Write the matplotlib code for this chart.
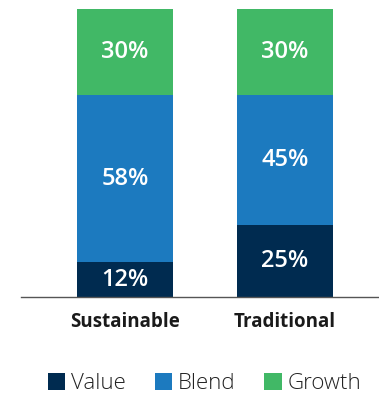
import numpy as np
import matplotlib.pyplot as plt

plt.rcParams['font.family'] = ['Open Sans', 'DejaVu Sans']

categories = ['Sustainable', 'Traditional']
value = [12, 25]
blend = [58, 45]
growth = [30, 30]

series = [('Value', value, '#002b50'),
          ('Blend', blend, '#1c7abf'),
          ('Growth', growth, '#41b866')]

fig = plt.figure(figsize=(3.79, 3.94), dpi=100)
ax = fig.add_axes([21 / 379, 97 / 394, 358 / 379, 288 / 394])

x = np.arange(len(categories))
bottom = np.zeros(len(categories))
for name, vals, col in series:
    bars = ax.bar(x, vals, width=0.6, bottom=bottom, color=col, label=name)
    for b, v in zip(bars, vals):
        ax.text(b.get_x() + b.get_width() / 2, b.get_y() + b.get_height() / 2,
                f'{v}%', ha='center', va='center', color='white',
                fontsize=17, fontweight='semibold')
    bottom += np.array(vals)

ax.set_xlim(-0.65, 1.5875)
ax.set_ylim(0, 100)
for s in ['top', 'right', 'left']:
    ax.spines[s].set_visible(False)
ax.spines['bottom'].set_color('#555555')
ax.spines['bottom'].set_linewidth(1)
ax.set_yticks([])
ax.set_xticks(x)
ax.set_xticklabels(categories, fontsize=13.5, fontweight='bold', color='#1a1a1a')
ax.tick_params(axis='x', length=0, pad=11)

fig.legend(loc='lower center', bbox_to_anchor=(0.54, 0.0), ncol=3, frameon=False,
           handlelength=0.77, handleheight=0.77, handletextpad=0.27,
           columnspacing=1.3, borderpad=0.0, borderaxespad=0, labelcolor='#222222',
           prop={'size': 16, 'weight': 'light'})

fig.savefig('out.png', dpi=100)
